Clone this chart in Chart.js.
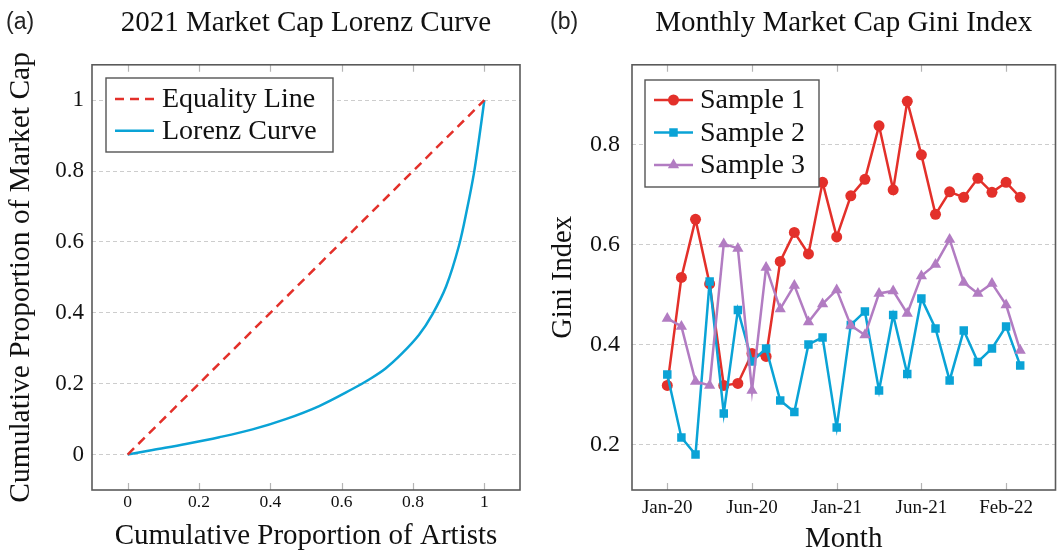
<!DOCTYPE html>
<html>
<head>
<meta charset="utf-8">
<script src="https://cdn.jsdelivr.net/npm/chart.js@4.4.1/dist/chart.umd.min.js"></script>
<style>
  html, body { margin: 0; padding: 0; background: #fff; }
  #wrap { position: relative; width: 1062px; height: 554px; overflow: hidden; }
  .panel { position: absolute; top: 0; height: 554px; }
  #p1 { left: 0; width: 530px; }
  #p2 { left: 540px; width: 522px; }
  .tag { position: absolute; top: 10px; font: 23px "Liberation Sans", Arial, sans-serif; line-height: 1; color: #222; }
</style>
</head>
<body>
<div id="wrap">
  <div class="panel" id="p1"><canvas id="lorenz" width="530" height="554"></canvas></div>
  <div class="panel" id="p2"><canvas id="gini" width="522" height="554"></canvas></div>
  <div class="tag" style="left:6px">(a)</div>
  <div class="tag" style="left:550px">(b)</div>
</div>
<script>
const SERIF = '"Liberation Serif", "Times New Roman", serif';
const RED = '#e3302a';
const BLUE = '#0aa3d6';
const PURPLE = '#b27cc2';

// (a) Lorenz curve
const lorenzX = [0, 0.07, 0.163, 0.257, 0.35, 0.443, 0.537, 0.63, 0.677, 0.723, 0.77, 0.817, 0.854, 0.893, 0.929, 0.952, 0.971, 0.985, 1];
const lorenzY = [0, 0.013, 0.03, 0.049, 0.071, 0.1, 0.137, 0.185, 0.212, 0.243, 0.286, 0.338, 0.395, 0.475, 0.59, 0.695, 0.795, 0.89, 1];
const equalityX = [0, 1];
const equalityY = [0, 1];
const unitTicks = [0, 0.2, 0.4, 0.6, 0.8, 1];

// (b) monthly Gini index
const sample1 = [0.319, 0.535, 0.651, 0.522, 0.319, 0.323, 0.383, 0.377, 0.567, 0.625, 0.582, 0.725, 0.616,
                 0.698, 0.731, 0.838, 0.71, 0.887, 0.78, 0.661, 0.706, 0.695, 0.733, 0.705, 0.725, 0.695];
const sample2 = [0.341, 0.215, 0.181, 0.527, 0.263, 0.47, 0.367, 0.393, 0.289, 0.266, 0.401, 0.415, 0.235,
                 0.44, 0.467, 0.309, 0.46, 0.342, 0.493, 0.433, 0.329, 0.429, 0.366, 0.393, 0.437, 0.359];
const sample3 = [0.453, 0.437, 0.327, 0.319, 0.602, 0.593, 0.309, 0.555, 0.472, 0.519, 0.446, 0.482, 0.51,
                 0.439, 0.42, 0.503, 0.508, 0.463, 0.538, 0.561, 0.611, 0.525, 0.503, 0.523, 0.48, 0.389];
const monthTicks = [0, 6, 12, 18, 24];
const monthLabels = ['Jan-20', 'Jun-20', 'Jan-21', 'Jun-21', 'Feb-22'];
const giniTicks = [0.2, 0.4, 0.6, 0.8];

const toPoints = (xs, ys) => ys.map((y, i) => ({ x: xs[i], y: y }));
const monthIdx = sample1.map((_, i) => i);

// frame, inward tick marks on top/bottom edge
const framePlugin = {
    id: 'frame',
    beforeDatasetsDraw(chart) {
        const { ctx, chartArea: a, scales } = chart;
        ctx.save();
        ctx.strokeStyle = '#b5b5b5';
        ctx.lineWidth = 1.2;
        scales.x.ticks.forEach(t => {
            const px = Math.round(scales.x.getPixelForValue(t.value)) + 0.5;
            ctx.beginPath();
            ctx.moveTo(px, a.top); ctx.lineTo(px, a.top + 7);
            ctx.moveTo(px, a.bottom); ctx.lineTo(px, a.bottom - 7);
            ctx.stroke();
        });
        ctx.restore();
    },
    afterDraw(chart) {
        const { ctx, chartArea: a } = chart;
        ctx.save();
        ctx.strokeStyle = '#5a5a5a';
        ctx.lineWidth = 1.6;
        ctx.strokeRect(a.left, a.top, a.right - a.left, a.bottom - a.top);
        ctx.restore();
    }
};

// legend drawn inside the plot
const boxLegend = {
    id: 'boxLegend',
    afterDraw(chart, args, o) {
        const ctx = chart.ctx;
        ctx.save();
        ctx.fillStyle = '#fff';
        ctx.fillRect(o.x, o.y, o.w, o.h);
        ctx.strokeStyle = '#555';
        ctx.lineWidth = 1.4;
        ctx.strokeRect(o.x, o.y, o.w, o.h);
        chart.data.datasets.forEach((ds, i) => {
            const cy = o.y + o.rowStart + i * o.rowGap;
            const x0 = o.x + o.pad;
            ctx.strokeStyle = ds.borderColor;
            ctx.fillStyle = ds.borderColor;
            ctx.lineWidth = ds.borderWidth;
            ctx.setLineDash(ds.borderDash || []);
            ctx.beginPath();
            ctx.moveTo(x0, cy); ctx.lineTo(x0 + o.lineLen, cy);
            ctx.stroke();
            ctx.setLineDash([]);
            if (ds.pointRadius > 0) {
                Chart.helpers.drawPoint(ctx, { pointStyle: ds.pointStyle, rotation: 0, radius: ds.pointRadius, borderWidth: 0 },
                    x0 + o.lineLen / 2, cy);
            }
            ctx.fillStyle = '#111';
            ctx.font = o.font;
            ctx.textBaseline = 'middle';
            ctx.fillText(ds.label, x0 + o.lineLen + o.gap, cy + 1);
        });
        ctx.restore();
    }
};

const serif = (size, lh) => ({ family: SERIF, size: size, weight: 'normal', lineHeight: lh || 1.2 });

new Chart(document.getElementById('lorenz'), {
    type: 'scatter',
    data: {
        datasets: [{
            label: 'Equality Line',
            data: toPoints(equalityX, equalityY),
            showLine: true,
            borderColor: RED,
            borderWidth: 2.5,
            borderDash: [9, 6],
            pointRadius: 0
        }, {
            label: 'Lorenz Curve',
            data: toPoints(lorenzX, lorenzY),
            showLine: true,
            borderColor: BLUE,
            borderWidth: 2.5,
            tension: 0.35,
            pointRadius: 0
        }]
    },
    options: {
        responsive: false,
        animation: false,
        devicePixelRatio: 1,
        layout: { padding: { top: 2, right: 10, bottom: 0, left: 0 } },
        plugins: {
            legend: { display: false },
            tooltip: { enabled: false },
            title: {
                display: true, fullSize: false,
                text: '2021 Market Cap Lorenz Curve',
                font: serif(29), color: '#111',
                padding: { top: 4, bottom: 24 }
            },
            boxLegend: { x: 106, y: 78, w: 227, h: 74, rowStart: 21, rowGap: 31.7, pad: 9, lineLen: 39, gap: 8, font: '28px ' + SERIF }
        },
        scales: {
            x: {
                type: 'linear', min: -0.1, max: 1.1,
                afterBuildTicks: s => { s.ticks = unitTicks.map(v => ({ value: v })); },
                afterFit: s => { s.height = 64; },
                grid: { display: false, drawTicks: false },
                border: { display: false },
                ticks: { callback: v => String(v), font: serif(17.5), color: '#111', padding: 2, maxRotation: 0 },
                title: { display: true, text: 'Cumulative Proportion of Artists', font: serif(29, 1), color: '#111', padding: { top: 0, bottom: 3 } }
            },
            y: {
                type: 'linear', min: -0.1, max: 1.1,
                afterBuildTicks: s => { s.ticks = unitTicks.map(v => ({ value: v })); },
                afterFit: s => { s.width = 92; },
                grid: { color: '#cdcdcd', lineWidth: 1, drawTicks: false },
                border: { display: false, dash: [4, 3] },
                ticks: { callback: v => String(v), font: serif(23), color: '#111', padding: 8 },
                title: { display: true, text: 'Cumulative Proportion of Market Cap', font: serif(29.5, 1), color: '#111', padding: { top: 6, bottom: 0 } }
            }
        }
    },
    plugins: [framePlugin, boxLegend]
});

new Chart(document.getElementById('gini'), {
    type: 'line',
    data: {
        datasets: [{
            label: 'Sample 1',
            data: toPoints(monthIdx, sample1),
            borderColor: RED, backgroundColor: RED,
            borderWidth: 2.5,
            pointStyle: 'circle', pointRadius: 5.5, pointBorderWidth: 0,
            order: 3
        }, {
            label: 'Sample 2',
            data: toPoints(monthIdx, sample2),
            borderColor: BLUE, backgroundColor: BLUE,
            borderWidth: 2.5,
            pointStyle: 'rect', pointRadius: 6, pointBorderWidth: 0,
            order: 2
        }, {
            label: 'Sample 3',
            data: toPoints(monthIdx, sample3),
            borderColor: PURPLE, backgroundColor: PURPLE,
            borderWidth: 2.5,
            pointStyle: 'triangle', pointRadius: 6.5, pointBorderWidth: 0,
            order: 1
        }]
    },
    options: {
        responsive: false,
        animation: false,
        devicePixelRatio: 1,
        layout: { padding: { top: 2, right: 2, bottom: 0, left: 0 } },
        plugins: {
            legend: { display: false },
            tooltip: { enabled: false },
            title: {
                display: true, fullSize: false,
                text: 'Monthly Market Cap Gini Index',
                font: serif(29), color: '#111',
                padding: { top: 4, bottom: 24 }
            },
            boxLegend: { x: 105, y: 80, w: 174, h: 107, rowStart: 20, rowGap: 32.5, pad: 9, lineLen: 39, gap: 7, font: '28px ' + SERIF }
        },
        scales: {
            x: {
                type: 'linear', min: -2.5, max: 27.5,
                afterBuildTicks: s => { s.ticks = monthTicks.map(v => ({ value: v })); },
                afterFit: s => { s.height = 64; },
                grid: { display: false, drawTicks: false },
                border: { display: false },
                ticks: { callback: v => monthLabels[monthTicks.indexOf(v)], font: serif(19), color: '#111', padding: 7, maxRotation: 0, autoSkip: false },
                title: { display: true, text: 'Month', font: serif(29, 1), color: '#111', padding: { top: 0, bottom: 0 } }
            },
            y: {
                type: 'linear', min: 0.11, max: 0.96,
                afterBuildTicks: s => { s.ticks = giniTicks.map(v => ({ value: v })); },
                afterFit: s => { s.width = 92; },
                grid: { color: '#cdcdcd', lineWidth: 1, drawTicks: false },
                border: { display: false, dash: [4, 3] },
                ticks: { callback: v => String(v), font: serif(24), color: '#111', padding: 12 },
                title: { display: true, text: 'Gini Index', font: serif(28.5, 1), color: '#111', padding: { top: 9, bottom: 0 } }
            }
        }
    },
    plugins: [framePlugin, boxLegend]
});
</script>
</body>
</html>
